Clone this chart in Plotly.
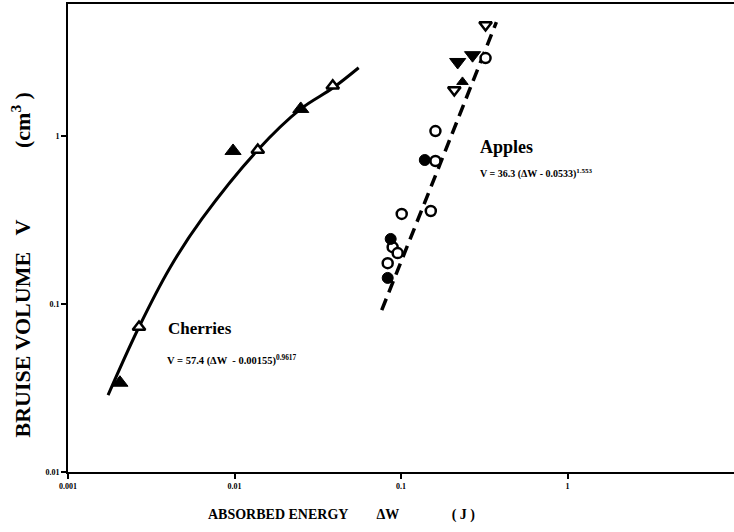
import plotly.graph_objects as go

# ---- data ----
cherry_open_x = [0.00267, 0.0138, 0.0389]
cherry_open_y = [0.073, 0.826, 1.99]
cherry_filled_x = [0.00205, 0.0098, 0.025]
cherry_filled_y = [0.034, 0.815, 1.45]
cherry_curve_x = [0.00174, 0.00267, 0.00409, 0.00637, 0.0138, 0.025, 0.0389, 0.0557]
cherry_curve_y = [0.0287, 0.073, 0.164, 0.321, 0.826, 1.45, 1.93, 2.55]

apple_open_circle_x = [0.322, 0.161, 0.161, 0.101, 0.151, 0.0891, 0.0955, 0.0832]
apple_open_circle_y = [2.91, 1.07, 0.71, 0.344, 0.358, 0.218, 0.201, 0.175]
apple_filled_circle_x = [0.139, 0.0867, 0.0832]
apple_filled_circle_y = [0.72, 0.244, 0.143]
apple_open_down_x = [0.322, 0.209]
apple_open_down_y = [4.58, 1.88]
apple_filled_down_x = [0.269, 0.219]
apple_filled_down_y = [3.03, 2.76]
apple_filled_up_x = [0.234]
apple_filled_up_y = [2.10]
apple_line_x = [0.0766, 0.1706, 0.374]
apple_line_y = [0.092, 0.671, 4.77]

x_ticks = [0.001, 0.01, 0.1, 1]
x_tick_text = ["0.001", "0.01", "0.1", "1"]
y_ticks = [0.01, 0.1, 1]
y_tick_text = ["0.01", "0.1", "1"]

FONT = "Liberation Serif"
L, T, B, W, H = 68, 4, 60, 734, 532
PW, PH = W - L, H - T - B
NB = "&nbsp;"


def px(xp):
    return (xp - L) / PW


def py(yp):
    return (H - B - yp) / PH


fig = go.Figure()

fig.add_trace(go.Scatter(x=cherry_curve_x, y=cherry_curve_y, mode="lines",
                         line=dict(color="black", width=3, shape="spline", smoothing=1.0)))
fig.add_trace(go.Scatter(x=apple_line_x, y=apple_line_y, mode="lines",
                         line=dict(color="black", width=3.5, dash="12px,7px", shape="spline")))


def pts(x, y, symbol, size, open_=False):
    if open_:
        m = dict(symbol=symbol, size=size, color="white",
                 line=dict(color="black", width=2.5))
    else:
        m = dict(symbol=symbol, size=size, color="black",
                 line=dict(color="black", width=1))
    fig.add_trace(go.Scatter(x=x, y=y, mode="markers", marker=m))


pts(cherry_open_x, cherry_open_y, "triangle-up", 11, True)
pts(cherry_filled_x, cherry_filled_y, "triangle-up", 14)
pts(apple_open_circle_x, apple_open_circle_y, "circle", 10, True)
pts(apple_filled_circle_x, apple_filled_circle_y, "circle", 11)
pts(apple_open_down_x, apple_open_down_y, "triangle-down", 11, True)
pts(apple_filled_down_x, apple_filled_down_y, "triangle-down", 14)
pts(apple_filled_up_x, apple_filled_up_y, "triangle-up", 10)

fig.add_annotation(xref="paper", yref="paper", x=px(478), y=py(147),
                   text="<b>Apples</b>", showarrow=False,
                   font=dict(family=FONT, size=18, color="black"), xanchor="left", yanchor="middle")
fig.add_annotation(xref="paper", yref="paper", x=px(478), y=py(173),
                   text="<b>V = 36.3 (ΔW - 0.0533)<sup>1.553</sup></b>", showarrow=False,
                   font=dict(family=FONT, size=10, color="black"), xanchor="left", yanchor="middle")
fig.add_annotation(xref="paper", yref="paper", x=px(166), y=py(328),
                   text="<b>Cherries</b>", showarrow=False,
                   font=dict(family=FONT, size=17, color="black"), xanchor="left", yanchor="middle")
fig.add_annotation(xref="paper", yref="paper", x=px(165), y=py(360),
                   text="<b>V = 57.4 (ΔW  - 0.00155)<sup>0.9617</sup></b>", showarrow=False,
                   font=dict(family=FONT, size=10.5, color="black"), xanchor="left", yanchor="middle")

# axis titles
fig.add_annotation(xref="paper", yref="paper", x=px(206), y=py(515),
                   text="<b>ABSORBED ENERGY" + NB * 8 + "ΔW" + NB * 15 + "( J )</b>",
                   showarrow=False,
                   font=dict(family=FONT, size=14, color="black"), xanchor="left", yanchor="middle")
fig.add_annotation(xref="paper", yref="paper", x=px(20), y=py(440),
                   text="<b>BRUISE VOLUME" + NB * 3 + "V" + NB * 13 + "(cm<sup>3</sup> )</b>",
                   showarrow=False, textangle=-90,
                   font=dict(family=FONT, size=22, color="black"), xanchor="center", yanchor="bottom")

tick_font = dict(size=8, family=FONT, color="black")
fig.update_layout(
    width=W, height=H,
    margin=dict(l=L, r=0, t=T, b=B),
    plot_bgcolor="white", paper_bgcolor="white",
    showlegend=False,
    font=dict(family=FONT, color="black"),
    xaxis=dict(type="log", range=[-3, 1], tickvals=x_ticks,
               ticktext=["<b>%s</b>" % t for t in x_tick_text],
               tickfont=tick_font, showgrid=False, zeroline=False,
               showline=True, linecolor="black", linewidth=2, mirror=True,
               ticks="outside", ticklen=5, tickwidth=2, tickcolor="black",
               automargin=False),
    yaxis=dict(type="log", range=[-2, 0.786], tickvals=y_ticks,
               ticktext=["<b>%s</b>" % t for t in y_tick_text],
               tickfont=tick_font, showgrid=False, zeroline=False,
               showline=True, linecolor="black", linewidth=2, mirror=False,
               ticks="outside", ticklen=5, tickwidth=2, tickcolor="black",
               automargin=False),
)

fig.write_html("out.html", config={"displayModeBar": False},
               post_script="document.body.style.margin='0';")
